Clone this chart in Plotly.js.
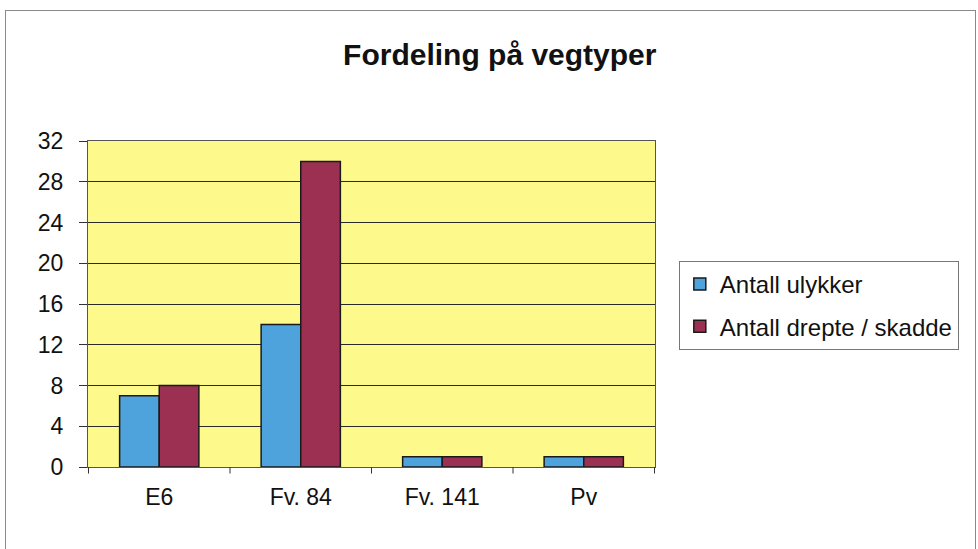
<!DOCTYPE html>
<html><head><meta charset="utf-8">
<script src="https://cdn.plot.ly/plotly-3.0.1.min.js"></script>
<style>
html,body{margin:0;padding:0;background:#fff;}
#frame{position:absolute;left:5px;top:10px;width:971px;height:545px;border:1px solid #8a8a8a;box-sizing:border-box;pointer-events:none;}
#chart{position:absolute;left:0;top:0;width:978px;height:549px;}
</style></head>
<body>
<div id="chart"></div>
<div id="frame"></div>
<script>
const categories = ["E6", "Fv. 84", "Fv. 141", "Pv"];
const ulykker = [7, 14, 1, 1];
const drepteSkadde = [8, 30, 1, 1];
const yTicks = [0, 4, 8, 12, 16, 20, 24, 28, 32];

const font = "Liberation Sans, Arial, sans-serif";
const traces = [
  {type:"bar", name:"Antall ulykker", x:categories, y:ulykker, legendgroup:"a",
   marker:{color:"#4fa3dc", line:{color:"#1a1a1a", width:1.5}}},
  {type:"bar", name:"Antall drepte / skadde", x:categories, y:drepteSkadde, legendgroup:"b",
   marker:{color:"#9b3052", line:{color:"#1a1a1a", width:1.5}}}
];
const layout = {
  width:978, height:549,
  margin:{l:88, r:323, t:141, b:82},
  paper_bgcolor:"rgba(0,0,0,0)",
  plot_bgcolor:"#fdf98a",
  barmode:"group", bargap:0.44, bargroupgap:0,
  showlegend:true,
  title:{text:"<b>Fordeling på vegtyper</b>", font:{family:font, size:30, color:"#111"}, x:0.511, xanchor:"center", y:0.9, yanchor:"middle"},
  xaxis:{type:"category", tickfont:{family:font, size:23, color:"#111"},
         showgrid:false, ticks:"", showline:true, linecolor:"#555", linewidth:1, mirror:true, fixedrange:true,
         ticklabelstandoff:9},
  yaxis:{range:[0,32], tickvals:yTicks, ticktext:yTicks.map(String),
         tickfont:{family:font, size:23, color:"#111"}, ticks:"outside", ticklen:8, tickcolor:"#333",
         showgrid:true, gridcolor:"#2a2a2a", gridwidth:1, zeroline:false,
         showline:true, linecolor:"#555", linewidth:1, mirror:true, ticklabelstandoff:11},
  legend:{x:1.042, xanchor:"left", y:0.632, yanchor:"top", traceorder:"grouped", tracegroupgap:8,
          bgcolor:"#fff", bordercolor:"#777", borderwidth:1,
          font:{family:font, size:24, color:"#111"}, itemwidth:30}
};
layout.shapes = [];
for (let i = 0; i <= categories.length; i++) {
  layout.shapes.push({type:"line", xref:"x", yref:"paper", x0:i-0.5, x1:i-0.5, y0:0, y1:-0.02, line:{color:"#333", width:1}});
}
Plotly.newPlot("chart", traces, layout, {displayModeBar:false, staticPlot:true});
</script>
</body></html>
